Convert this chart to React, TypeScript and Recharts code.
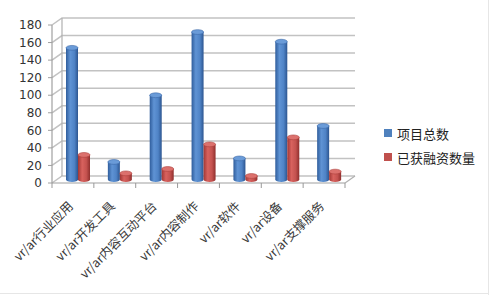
import React from 'react';
import { BarChart, Bar, XAxis, YAxis, CartesianGrid, Legend, usePlotArea } from 'recharts';

const categories = ['vr/ar行业应用', 'vr/ar开发工具', 'vr/ar内容互动平台', 'vr/ar内容制作', 'vr/ar软件', 'vr/ar设备', 'vr/ar支撑服务'];
const totalProjects = [150, 20, 96, 168, 24, 157, 61];
const fundedProjects = [28, 7, 12, 40, 4, 48, 9];
const seriesNames = ['项目总数', '已获融资数量'];
const yTicks = [0, 20, 40, 60, 80, 100, 120, 140, 160, 180];

const data = categories.map((c, i) => ({ name: c, total: totalProjects[i], funded: fundedProjects[i] }));

const DX = 10;
const DY = -7;

const palettes: Record<string, { stops: string[]; cap: string; edge: string }> = {
  blue: { stops: ['#2f5d9c', '#5f93d4', '#4f83c6', '#2c5590'], cap: '#6a9bd8', edge: '#3a68a8' },
  red: { stops: ['#a13735', '#d8625e', '#c4524f', '#8f2f2d'], cap: '#dc716d', edge: '#ad3f3c' },
};

const makeCylinder = (key: string) => (props: any) => {
  const { x, y, width, height } = props;
  if (x == null || y == null) return <g />;
  const p = palettes[key];
  const X = x + DX / 2;
  const Y = y + DY / 2;
  const w = width;
  const h = Math.max(height, 0);
  const rx = w / 2;
  const ry = 2.4;
  const id = `grad-${key}`;
  return (
    <g>
      <defs>
        <linearGradient id={id} x1="0" y1="0" x2="1" y2="0">
          <stop offset="0%" stopColor={p.stops[0]} />
          <stop offset="35%" stopColor={p.stops[1]} />
          <stop offset="70%" stopColor={p.stops[2]} />
          <stop offset="100%" stopColor={p.stops[3]} />
        </linearGradient>
      </defs>
      <path
        d={`M${X},${Y} L${X},${Y + h} A${rx},${ry} 0 0 0 ${X + w},${Y + h} L${X + w},${Y} Z`}
        fill={`url(#${id})`}
      />
      <ellipse cx={X + rx} cy={Y} rx={rx} ry={ry} fill={p.cap} stroke={p.edge} strokeWidth={0.6} />
    </g>
  );
};

const gridLine = (props: any) => {
  const { x1, y1, x2 } = props;
  return (
    <polyline
      key={`g-${props.index}-${y1}`}
      points={`${x1},${y1} ${x1 + DX},${y1 + DY} ${x2 + DX},${y1 + DY}`}
      fill="none"
      stroke="#c2c2c2"
      strokeWidth={1.5}
    />
  );
};

const Frame = () => {
  const pa = usePlotArea();
  if (!pa) return null;
  const { x, y, width, height } = pa;
  return (
    <g>
      <line x1={x + DX} y1={y + DY} x2={x + DX} y2={y + height + DY} stroke="#b0b0b0" strokeWidth={1.2} />
      <line x1={x + width} y1={y + height} x2={x + width + DX} y2={y + height + DY} stroke="#b0b0b0" strokeWidth={1.2} />
    </g>
  );
};

const XTick = (props: any) => {
  const { x, y, payload, index, visibleTicksCount } = props;
  const half = payload && payload.offset ? payload.offset : 20.9;
  const last = index === (visibleTicksCount ?? categories.length) - 1;
  const ax = x + 1;
  const ay = y + 24;
  return (
    <g>
      <line x1={x - half} y1={y} x2={x - half} y2={y + 5} stroke="#999" />
      {last && <line x1={x + half} y1={y} x2={x + half} y2={y + 5} stroke="#999" />}
      <text
        x={ax}
        y={ay}
        textAnchor="end"
        transform={`rotate(-45 ${ax} ${ay})`}
        fontSize={12.5}
        fontFamily='"Noto Sans CJK SC", sans-serif'
        fill="#3a3a3a"
      >
        {payload.value}
      </text>
    </g>
  );
};

const colors = ['#4f81bd', '#c0504d'];

const LegendContent = () => (
  <div style={{ fontFamily: '"Noto Sans CJK SC", sans-serif', fontSize: 13, color: '#222' }}>
    {seriesNames.map((n, i) => (
      <div key={n} style={{ display: 'flex', alignItems: 'center', height: 24 }}>
        <span style={{ width: 8, height: 8, background: colors[i], display: 'inline-block', marginRight: 5 }} />
        <span>{n}</span>
      </div>
    ))}
  </div>
);

export default function App() {
  return (
    <div style={{ position: 'absolute', left: 0, top: 0, width: 494, height: 295, background: '#fff' }}>
      <div style={{ position: 'absolute', left: 488, top: 0, width: 1, height: 295, background: '#e6e6e6' }} />
      <div style={{ position: 'absolute', left: 0, top: 293, width: 489, height: 1, background: '#e6e6e6' }} />
      <BarChart
        width={494}
        height={295}
        data={data}
        margin={{ top: 25, left: 12, right: 149, bottom: 72 }}
        barSize={12}
        barGap={0}
      >
        <CartesianGrid vertical={false} horizontal={gridLine} />
        <Frame />
        <XAxis
          dataKey="name"
          interval={0}
          tickLine={false}
          tickSize={0}
          tickMargin={0}
          height={40}
          axisLine={{ stroke: '#a0a0a0', strokeWidth: 1.2 }}
          tick={<XTick />}
        />
        <YAxis
          width={40}
          domain={[0, 180]}
          ticks={yTicks}
          interval={0}
          tickSize={4}
          tickMargin={6}
          axisLine={{ stroke: '#a0a0a0', strokeWidth: 1.2 }}
          tickLine={{ stroke: '#a0a0a0' }}
          tick={{ fill: '#333', fontSize: 12, fontFamily: '"DejaVu Sans", sans-serif' }}
        />
        <Legend
          layout="vertical"
          align="center"
          verticalAlign="middle"
          wrapperStyle={{ left: 384, top: 121, width: 100 }}
          content={<LegendContent />}
        />
        <Bar dataKey="total" name={seriesNames[0]} fill={colors[0]} shape={makeCylinder('blue')} isAnimationActive={false} />
        <Bar dataKey="funded" name={seriesNames[1]} fill={colors[1]} shape={makeCylinder('red')} isAnimationActive={false} />
      </BarChart>
    </div>
  );
}
